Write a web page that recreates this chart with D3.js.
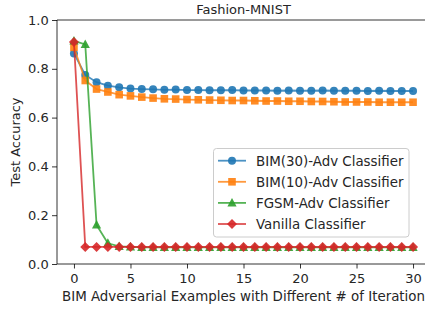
<!DOCTYPE html>
<html><head><meta charset="utf-8">
<script src="https://cdn.jsdelivr.net/npm/d3@7"></script>
<style>html,body{margin:0;padding:0;background:#fff;overflow:hidden}svg{display:block;font-family:"DejaVu Sans",sans-serif}</style>
</head><body><svg id="c" width="425" height="309"></svg>
<script>
const iterations = [0,1,2,3,4,5,6,7,8,9,10,11,12,13,14,15,16,17,18,19,20,21,22,23,24,25,26,27,28,29,30];
const bim30 = [0.863,0.775,0.745,0.731,0.724,0.719,0.717,0.716,0.714,0.715,0.713,0.713,0.712,0.712,0.713,0.711,0.711,0.711,0.710,0.711,0.710,0.710,0.711,0.710,0.710,0.710,0.709,0.710,0.709,0.709,0.709];
const bim10 = [0.888,0.752,0.717,0.705,0.694,0.689,0.684,0.680,0.677,0.676,0.674,0.673,0.672,0.671,0.670,0.670,0.669,0.668,0.668,0.667,0.667,0.666,0.666,0.665,0.664,0.664,0.664,0.663,0.663,0.663,0.663];
const fgsm = [0.914,0.900,0.160,0.085,0.072,0.070,0.068,0.068,0.068,0.068,0.068,0.068,0.068,0.068,0.068,0.068,0.068,0.068,0.068,0.068,0.068,0.068,0.068,0.068,0.068,0.068,0.068,0.068,0.068,0.068,0.068];
const vanilla = [0.910,0.070,0.070,0.070,0.070,0.070,0.070,0.070,0.070,0.070,0.070,0.070,0.070,0.070,0.070,0.070,0.070,0.070,0.070,0.070,0.070,0.070,0.070,0.070,0.070,0.070,0.070,0.070,0.070,0.070,0.070];
const seriesNames = ["BIM(30)-Adv Classifier","BIM(10)-Adv Classifier","FGSM-Adv Classifier","Vanilla Classifier"];
const seriesColors = ["#1f77b4","#ff7f0e","#2ca02c","#d62728"];
const seriesMarkers = ["circle","square","triangle","diamond"];
const xTicks = [0,5,10,15,20,25,30];
const yTicks = [0.0,0.2,0.4,0.6,0.8,1.0];
const title = "Fashion-MNIST";
const xLabel = "BIM Adversarial Examples with Different # of Iteration";
const yLabel = "Test Accuracy";

const TXT = "#262626";
const svg = d3.select("#c");
const L = 57, R = 430, T = 20, B = 264;
const x = d3.scaleLinear().domain([-1.5, 31.5]).range([L, R]);
const y = d3.scaleLinear().domain([0, 1]).range([B, T]);

svg.append("defs").append("clipPath").attr("id","clip")
  .append("rect").attr("x",L).attr("y",T-6).attr("width",R-L).attr("height",B-T+6);

function markerPath(type){
  const p = d3.path();
  if(type==="circle"){ p.arc(0,0,4,0,2*Math.PI); }
  else if(type==="square"){ p.rect(-3.8,-3.8,7.6,7.6); }
  else if(type==="triangle"){ p.moveTo(0,-5); p.lineTo(4.6,3.6); p.lineTo(-4.6,3.6); p.closePath(); }
  else { p.moveTo(0,-5); p.lineTo(5,0); p.lineTo(0,5); p.lineTo(-5,0); p.closePath(); }
  return p.toString();
}
function label(g, tx, ty, str, anchor, fs, extra){
  return g.append("text").attr("transform",`translate(${tx},${ty})` + (extra||""))
    .attr("text-anchor",anchor).attr("font-size",fs).attr("fill",TXT).text(str);
}

const allSeries = [bim30,bim10,fgsm,vanilla];
const plot = svg.append("g").attr("clip-path","url(#clip)");
const line = d3.line().x((d,i)=>x(iterations[i])).y(d=>y(d));
allSeries.forEach((vals,k)=>{
  const g = plot.append("g");
  g.append("path").attr("d",line(vals)).attr("fill","none")
    .attr("stroke",seriesColors[k]).attr("stroke-width",1.8).attr("stroke-opacity",0.8);
  g.selectAll("path.m").data(vals).join("path").attr("class","m")
    .attr("d",markerPath(seriesMarkers[k]))
    .attr("transform",(d,i)=>`translate(${x(iterations[i])},${y(d)})`)
    .attr("fill",seriesColors[k]).attr("fill-opacity",0.9);
});

// axes
const TICKFS = 13;
const xAxis = d3.axisBottom(x).tickValues(xTicks).tickSize(4.5).tickFormat(d3.format("d"));
const gx = svg.append("g").attr("transform",`translate(0,${B})`).call(xAxis);
const yAxis = d3.axisLeft(y).tickValues(yTicks).tickSize(5).tickPadding(3.3).tickFormat(d3.format(".1f"));
const gy = svg.append("g").attr("transform",`translate(${L},0)`).call(yAxis);
[gx,gy].forEach(g=>{
  g.select(".domain").remove();
  g.selectAll("line").attr("stroke","#000").attr("stroke-width",0.8);
  g.selectAll("text").attr("font-size",TICKFS).attr("fill",TXT).attr("font-family","DejaVu Sans");
});
gx.selectAll("text").attr("y",19.2).attr("dy",null);
// spines
svg.append("line").attr("x1",L).attr("x2",L).attr("y1",T).attr("y2",B).attr("stroke","#000").attr("stroke-width",0.8);
svg.append("line").attr("x1",L).attr("x2",R).attr("y1",B).attr("y2",B).attr("stroke","#000").attr("stroke-width",0.8);
svg.append("line").attr("x1",L).attr("x2",R).attr("y1",T).attr("y2",T).attr("stroke","#000").attr("stroke-width",0.8);

label(svg, (L+R)/2, 14, title, "middle", 13);
label(svg, (L+R)/2, 301, xLabel, "middle", 13.4);
label(svg, 20, 142, yLabel, "middle", 13, " rotate(-90)");

// legend
const lg = svg.append("g");
lg.append("rect").attr("x",213.5).attr("y",148.5).attr("width",195.5).attr("height",88.5).attr("rx",3)
  .attr("fill","#fff").attr("fill-opacity",0.8).attr("stroke","#cccccc").attr("stroke-width",1);
seriesNames.forEach((name,k)=>{
  const yy = 160.7 + k*21.1;
  lg.append("line").attr("x1",218).attr("x2",246).attr("y1",yy).attr("y2",yy)
    .attr("stroke",seriesColors[k]).attr("stroke-width",1.8).attr("stroke-opacity",0.8);
  lg.append("path").attr("d",markerPath(seriesMarkers[k])).attr("transform",`translate(232,${yy})`)
    .attr("fill",seriesColors[k]).attr("fill-opacity",0.9);
  label(lg, 256, yy + 4.8, name, "start", 13.4);
});
</script></body></html>
